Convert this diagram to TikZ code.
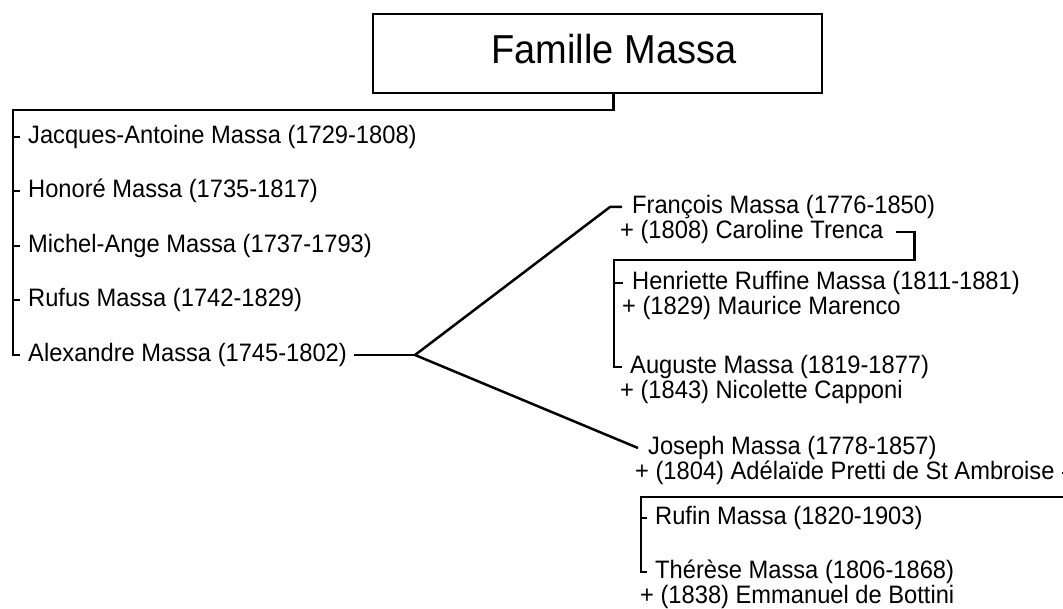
\documentclass[tikz,border=0pt]{standalone}
\usepackage{fontspec}
\setmainfont{Liberation Sans}[FakeStretch=0.94]
\tikzset{
  personne/.style={anchor=west,inner sep=0pt,font=\fontsize{25.2}{27}\selectfont},
  titre/.style={draw,line width=2.6pt,inner sep=0pt,minimum width=449pt,minimum height=79pt,
    text depth=10pt,font=\fontsize{40.4}{44}\selectfont},
  lien/.style={line width=2.5pt}
}
\begin{document}
\begin{tikzpicture}[x=1pt,y=-1pt]
\useasboundingbox (0,0) rectangle (1063,609);
% titre
\node[titre] (titre) at (597.5,53.5) {\hspace*{33pt}Famille Massa};
\coordinate (racine) at (13,110);
% freres
\node[personne] (jacques) at (28,137) {Jacques-Antoine Massa (1729-1808)};
\node[personne] (honore) at (28,191) {Honoré Massa (1735-1817)};
\node[personne] (michel) at (28,246) {Michel-Ange Massa (1737-1793)};
\node[personne] (rufus) at (28,300) {Rufus Massa (1742-1829)};
\node[personne] (alexandre) at (28,355) {Alexandre Massa (1745-1802)};
\draw[lien] ([xshift=16pt]titre.south) |- (racine) -- (racine |- alexandre.west) -- ([xshift=-8pt]alexandre.west);
\foreach \n in {jacques,honore,michel,rufus}
  \draw[lien] (racine |- \n.west) -- ([xshift=-8pt]\n.west);
% fils d'Alexandre
\coordinate (fourche) at (415,355);
\draw[lien] ([xshift=7pt]alexandre.east) -- (fourche);
\node[personne] (francois) at (632,207) {François Massa (1776-1850)};
\node[personne] (caroline) at (620,232) {+ (1808) Caroline Trenca};
\node[personne] (joseph) at (648,448) {Joseph Massa (1778-1857)};
\node[personne] (adelaide) at (635,473) {+ (1804) Adélaïde Pretti de St Ambroise};
\draw[lien] (fourche) -- ([xshift=-22pt]francois.west) -- ([xshift=-10pt]francois.west);
\draw[lien] (fourche) -- ([xshift=-10pt]joseph.west);
% enfants de François
\coordinate (coinF) at (614,260);
\node[personne] (henriette) at (632,283) {Henriette Ruffine Massa (1811-1881)};
\node[personne] (maurice) at (622,308) {+ (1829) Maurice Marenco};
\node[personne] (auguste) at (630,367) {Auguste Massa (1819-1877)};
\node[personne] (nicolette) at (620,392) {+ (1843) Nicolette Capponi};
\draw[lien] ([xshift=12pt]caroline.east) -- ++(19,0) |- (coinF) -- (coinF |- auguste.west) -- ([xshift=-8pt]auguste.west);
\draw[lien] (coinF |- henriette.west) -- ([xshift=-9pt]henriette.west);
% enfants de Joseph
\coordinate (coinJ) at (641,497);
\node[personne] (rufin) at (655,518) {Rufin Massa (1820-1903)};
\node[personne] (therese) at (655,572) {Thérèse Massa (1806-1868)};
\node[personne] (emmanuel) at (640,597) {+ (1838) Emmanuel de Bottini};
\draw[lien] ([xshift=7pt]adelaide.east) -- ++(40,0) |- (coinJ) -- (coinJ |- therese.west) -- ([xshift=-8pt]therese.west);
\draw[lien] (coinJ |- rufin.west) -- ([xshift=-8pt]rufin.west);
\end{tikzpicture}
\end{document}
